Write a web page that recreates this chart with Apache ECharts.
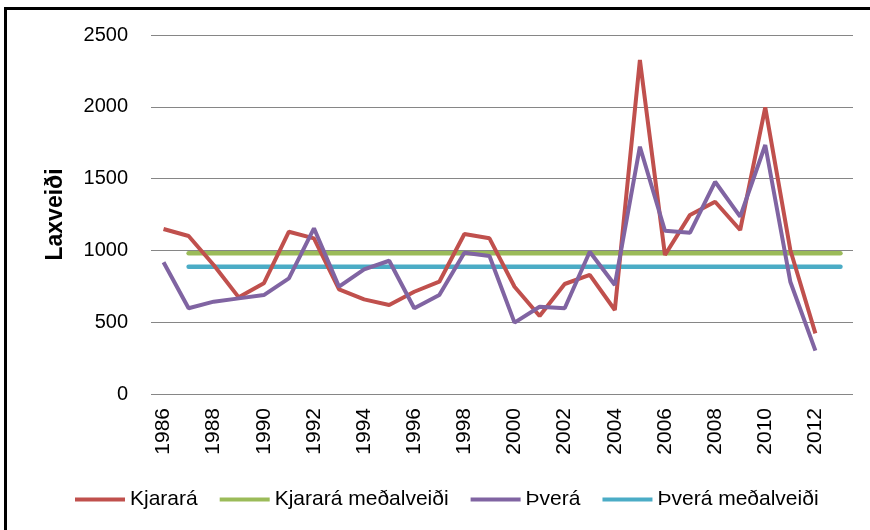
<!DOCTYPE html>
<html>
<head>
<meta charset="utf-8">
<script src="https://cdn.jsdelivr.net/npm/echarts@6/dist/echarts.min.js"></script>
<style>
  html, body { margin: 0; padding: 0; background: #fff; }
  #main { width: 870px; height: 530px; }
</style>
</head>
<body>
<div id="main"></div>
<script>
// ár (síðasti flokkur 2013 er án merkis)
var years = ['1986', '1987', '1988', '1989', '1990', '1991', '1992', '1993', '1994', '1995',
  '1996', '1997', '1998', '1999', '2000', '2001', '2002', '2003', '2004', '2005',
  '2006', '2007', '2008', '2009', '2010', '2011', '2012', '2013'];
var kjarara = [1149, 1100, 898, 673, 771, 1130, 1084, 729, 659, 620,
  712, 782, 1114, 1084, 747, 543, 766, 829, 585, 2326,
  968, 1247, 1339, 1142, 1996, 1003, 422];
var thvera = [917, 597, 643, 666, 689, 805, 1154, 747, 868, 928,
  597, 689, 984, 961, 497, 608, 597, 991, 759, 1722,
  1137, 1123, 1478, 1235, 1734, 782, 302];
var kjararaMean = 980;
var thveraMean = 887;
var meanFrom = '1987';
var meanTo = '2013';
var yTicks = [0, 500, 1000, 1500, 2000, 2500];

var font = '"Liberation Sans", Arial, sans-serif';

echarts.init(document.getElementById('main')).setOption({
  animation: false,
  textStyle: { fontFamily: font },
  grid: { left: 151, right: 17, top: 35, bottom: 136 },
  legend: {
    left: 70,
    top: 484,
    itemWidth: 50,
    itemHeight: 4,
    itemGap: 22,
    icon: 'rect',
    textStyle: { fontSize: 21, color: '#000', fontFamily: font },
    data: ['Kjarará', 'Kjarará meðalveiði', 'Þverá', 'Þverá meðalveiði']
  },
  graphic: [
    { type: 'line', shape: { x1: 4, y1: 8.5, x2: 870, y2: 8.5 }, style: { stroke: '#000', lineWidth: 3 } },
    { type: 'line', shape: { x1: 5.5, y1: 7, x2: 5.5, y2: 530 }, style: { stroke: '#000', lineWidth: 3 } }
  ],
  xAxis: {
    type: 'category',
    boundaryGap: true,
    data: years,
    axisLine: { show: false },
    axisTick: { show: false },
    axisLabel: {
      interval: 1,
      rotate: 90,
      margin: 14,
      fontSize: 21,
      color: '#000',
      fontFamily: font
    }
  },
  yAxis: {
    type: 'value',
    min: yTicks[0],
    max: yTicks[yTicks.length - 1],
    interval: 500,
    name: 'Laxveiði',
    nameLocation: 'middle',
    nameGap: 84,
    nameTextStyle: { fontSize: 23, fontWeight: 'bold', color: '#000', fontFamily: font },
    axisLine: { show: false },
    axisTick: { show: false },
    axisLabel: {
      margin: 23,
      fontSize: 20,
      color: '#000',
      fontFamily: font,
      formatter: function (v) { return String(v); }
    },
    splitLine: { lineStyle: { color: '#868686', width: 1.2 } }
  },
  series: [
    {
      name: 'Kjarará',
      type: 'line',
      data: kjarara,
      symbol: 'none',
      color: '#C0504D',
      lineStyle: { width: 4, color: '#C0504D' },
      z: 3
    },
    {
      name: 'Kjarará meðalveiði',
      type: 'line',
      data: [[meanFrom, kjararaMean], [meanTo, kjararaMean]],
      symbol: 'none',
      color: '#9BBB59',
      lineStyle: { width: 4.5, color: '#9BBB59', cap: 'round' },
      z: 2
    },
    {
      name: 'Þverá',
      type: 'line',
      data: thvera,
      symbol: 'none',
      color: '#8064A2',
      lineStyle: { width: 4, color: '#8064A2' },
      z: 4
    },
    {
      name: 'Þverá meðalveiði',
      type: 'line',
      data: [[meanFrom, thveraMean], [meanTo, thveraMean]],
      symbol: 'none',
      color: '#4BACC6',
      lineStyle: { width: 4.5, color: '#4BACC6', cap: 'round' },
      z: 2
    }
  ]
});
</script>
</body>
</html>
